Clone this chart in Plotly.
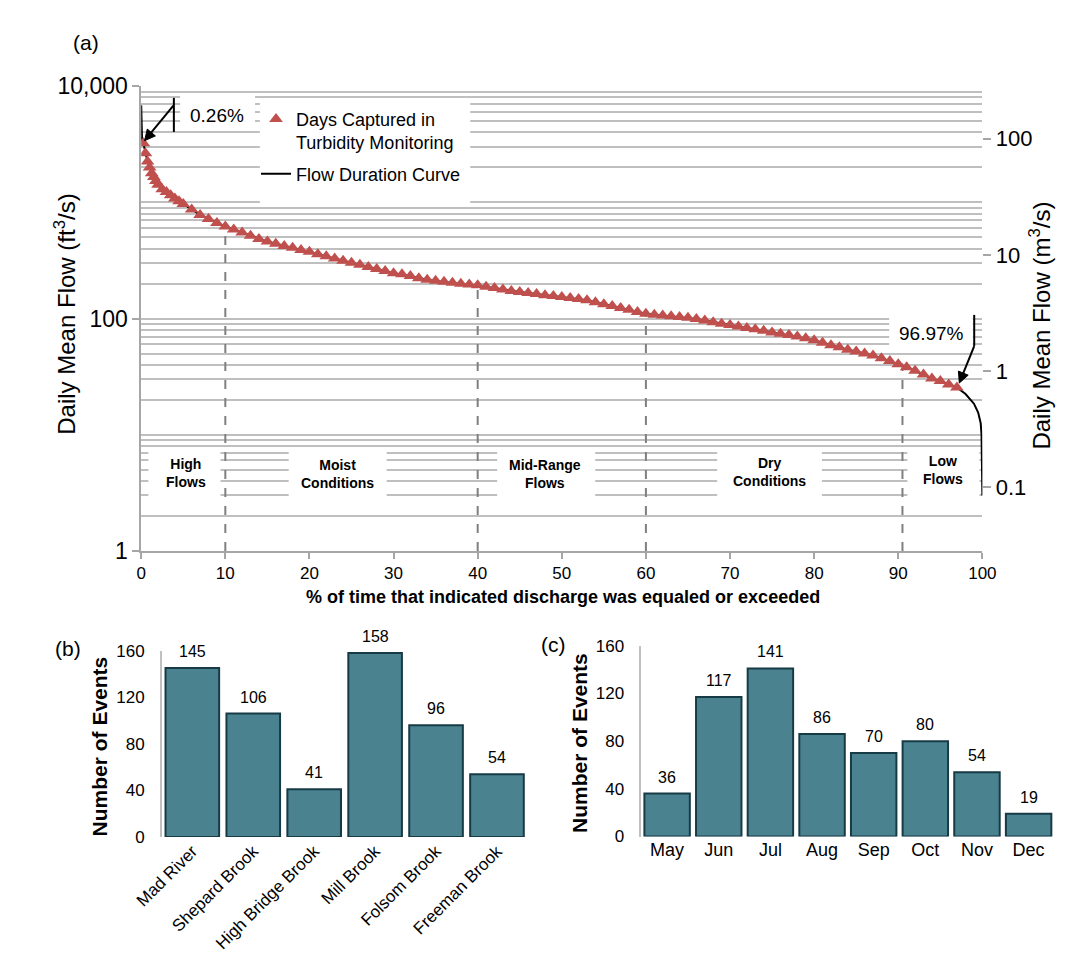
import plotly.graph_objects as go
import math

# ---------------- data ----------------
pct = [0, 0.1, 0.26, 0.5, 0.75, 1.0, 1.25, 1.5, 1.75, 2.0, 2.5, 3.0, 3.5, 4.0, 4.5, 5.0,
       6, 7, 8, 9, 10, 11, 12, 13, 14, 15, 16, 17, 18, 19, 20, 21, 22, 23, 24, 25,
       26, 27, 28, 29, 30, 31, 32, 33, 34, 35, 36, 37, 38, 39, 40, 41, 42, 43, 44, 45,
       46, 47, 48, 49, 50, 51, 52, 53, 54, 55, 56, 57, 58, 59, 60, 61, 62, 63, 64, 65,
       66, 67, 68, 69, 70, 71, 72, 73, 74, 75, 76, 77, 78, 79, 80, 81, 82, 83, 84, 85,
       86, 87, 88, 89, 90, 91, 92, 93, 94, 95, 96, 96.97, 98, 99, 99.5, 99.8, 99.9, 99.95, 100]
flow_cfs = [6840, 3500, 3220, 2650, 2250, 2000, 1780, 1650, 1530, 1420, 1300, 1230, 1150, 1080, 1020, 970,
            870, 780, 720, 665, 620, 585, 550, 515, 485, 460, 440, 422, 406, 390, 375, 358, 343, 328, 315, 302,
            290, 278, 267, 256, 246, 240, 232, 222, 216, 211, 207, 203, 199, 196, 193, 188, 183, 178, 173, 169,
            166, 163, 159, 156, 153, 150, 147, 144, 138, 133, 128, 123, 119, 114, 110, 108, 106, 104.5, 103, 101.5,
            99, 96, 93, 90, 88, 85.5, 83, 81, 78.5, 76, 74, 72, 70, 67.5, 65, 62, 59, 56.5, 54, 52,
            50, 48, 45.5, 43, 40.5, 38, 35.5, 33, 30.5, 29, 27, 25.5, 22.4, 18.5, 15.5, 12.6, 10, 7, 3]
captured_start_pct = 0.26
captured_end_pct = 96.97

regime_bounds = [10, 40, 60, 90.5]
regime_bound_flow = [620, 193, 110, 41]
regime_labels = ["High<br>Flows", "Moist<br>Conditions", "Mid-Range<br>Flows", "Dry<br>Conditions", "Low<br>Flows"]

sites = ["Mad River", "Shepard Brook", "High Bridge Brook", "Mill Brook", "Folsom Brook", "Freeman Brook"]
site_events = [145, 106, 41, 158, 96, 54]

months = ["May", "Jun", "Jul", "Aug", "Sep", "Oct", "Nov", "Dec"]
month_events = [36, 117, 141, 86, 70, 80, 54, 19]

CFS_TO_CMS = 0.0283168

# ---------------- helpers ----------------
W, H = 1071, 969
def px(x):
    return x / W
def py(y):
    return 1 - y / H

FONT = "Liberation Sans, Arial, sans-serif"
GRID = "#bfbfbf"
AXIS = "#a6a6a6"
RED = "#C0504D"
BAR = "#4A8290"
BAR_EDGE = "#173B45"

mk_x = [p for p in pct if captured_start_pct <= p <= captured_end_pct]
mk_y = [f for p, f in zip(pct, flow_cfs) if captured_start_pct <= p <= captured_end_pct]

fig = go.Figure()

fig.add_trace(go.Scatter(x=pct, y=flow_cfs, mode="lines", name="Flow Duration Curve",
                         line=dict(color="black", width=2), xaxis="x", yaxis="y",
                         legendrank=2, legendgroup="b"))
fig.add_trace(go.Scatter(x=mk_x, y=mk_y, mode="markers",
                         name="Days Captured in<br>Turbidity Monitoring",
                         marker=dict(symbol="triangle-up", size=12, color=RED, line=dict(width=0)),
                         xaxis="x", yaxis="y", legendrank=1, legendgroup="a"))
fig.add_trace(go.Scatter(x=[50], y=[1], mode="markers", marker=dict(opacity=0), xaxis="x", yaxis="y2",
                         showlegend=False, hoverinfo="skip"))

fig.add_trace(go.Bar(x=sites, y=site_events,
                     marker=dict(color=BAR, line=dict(color=BAR_EDGE, width=2)),
                     xaxis="x2", yaxis="y3", showlegend=False))
fig.add_trace(go.Bar(x=months, y=month_events,
                     marker=dict(color=BAR, line=dict(color=BAR_EDGE, width=2)),
                     xaxis="x3", yaxis="y4", showlegend=False))

minor_vals = []
for k in range(0, 4):
    for m in range(2, 10):
        minor_vals.append(m * 10 ** k)
minor_vals += [10, 1000]

lo = math.log10(CFS_TO_CMS)

fig.update_layout(
    width=W, height=H, margin=dict(l=0, r=0, t=0, b=0),
    paper_bgcolor="white", plot_bgcolor="white",
    font=dict(family=FONT, color="black"),
    bargap=0.12,
    xaxis=dict(domain=[px(109.5), px(985)], range=[0, 100], tickvals=list(range(0, 101, 10)),
               ticks="outside", ticklen=6, tickcolor=AXIS, tickwidth=1.5, showline=True, linecolor=AXIS,
               linewidth=1.5, showgrid=False, zeroline=False, tickfont=dict(size=17), anchor="y"),
    yaxis=dict(domain=[py(544.5), py(67)], type="log", range=[0, 4], tickvals=[1, 100, 10000],
               ticktext=["1", "100", "10,000"], ticks="outside", ticklen=7, tickcolor=AXIS, tickwidth=1.5,
               showline=True, linecolor=AXIS, linewidth=1.5, showgrid=True, gridcolor=GRID, gridwidth=1.5,
               zeroline=False, tickfont=dict(size=23), anchor="x",
               minor=dict(tickmode="array", tickvals=minor_vals, showgrid=True, gridcolor=GRID,
                          gridwidth=1.5, ticks="")),
    yaxis2=dict(overlaying="y", side="right", anchor="x", type="log", range=[lo, 4 + lo],
                tickvals=[0.1, 1, 10, 100], ticktext=["0.1", "1", "10", "100"], ticks="outside",
                ticklen=8, tickcolor=AXIS, tickwidth=1.5, showline=False, showgrid=False, zeroline=False,
                tickfont=dict(size=22)),
    xaxis2=dict(domain=[px(131), px(511.5)], anchor="y3", tickangle=-45, tickfont=dict(size=17),
                showline=False, ticks="", showgrid=False),
    yaxis3=dict(domain=[py(838.6), py(647)], anchor="x2", range=[0, 160], tickvals=[0, 40, 80, 120, 160],
                showline=True, linecolor="#c0c0c0", linewidth=1.5, showgrid=False, zeroline=False,
                ticks="", ticklabelstandoff=12, tickfont=dict(size=17)),
    xaxis3=dict(domain=[px(630), px(1060)], anchor="y4", tickfont=dict(size=18),
                showline=False, ticks="", showgrid=False),
    yaxis4=dict(domain=[py(838), py(642)], anchor="x3", range=[0, 160], tickvals=[0, 40, 80, 120, 160],
                showline=True, linecolor="#c0c0c0", linewidth=1.5, showgrid=False, zeroline=False,
                ticks="", ticklabelstandoff=12, tickfont=dict(size=17)),
    legend=dict(x=px(229), y=py(82), xanchor="left", yanchor="top", bgcolor="rgba(0,0,0,0)",
                font=dict(size=18), valign="top", itemwidth=30, tracegroupgap=5),
)

shapes = []
for xb, fb in zip(regime_bounds, regime_bound_flow):
    shapes.append(dict(type="line", xref="x", yref="y", x0=xb, x1=xb, y0=1, y1=fb,
                       line=dict(color="#7f7f7f", width=2, dash="dash"), layer="between"))
boxes = [(117, 192, 438, 495), (263, 365, 438, 495), (480, 582, 438, 495), (709, 818, 438, 495),
         (907, 982, 438, 495),
         (150, 228, 75, 110),
         (888, 975, 300, 338),
         (233, 452, 83, 190)]
for x0, x1, y0, y1 in boxes:
    shapes.append(dict(type="rect", xref="paper", yref="paper", x0=px(x0), x1=px(x1), y0=py(y1), y1=py(y0),
                       fillcolor="white", line=dict(width=0), layer="above"))
# callout brackets
shapes.append(dict(type="line", xref="paper", yref="paper", x0=px(143.5), x1=px(143.5), y0=py(114), y1=py(79),
                   line=dict(color="black", width=2), layer="above"))
shapes.append(dict(type="line", xref="paper", yref="paper", x0=px(976.5), x1=px(976.5), y0=py(334), y1=py(302),
                   line=dict(color="black", width=2), layer="above"))

def arrow(tail, tip, head_len=11, head_w=5.5):
    dx, dy = tip[0] - tail[0], tip[1] - tail[1]
    L = math.hypot(dx, dy)
    ux, uy = dx / L, dy / L
    bx, by = tip[0] - head_len * ux, tip[1] - head_len * uy
    nx, ny = -uy, ux
    shapes.append(dict(type="line", xref="paper", yref="paper", x0=px(tail[0]), y0=py(tail[1]),
                       x1=px(bx + 2 * ux), y1=py(by + 2 * uy), line=dict(color="black", width=2), layer="above"))
    p1 = (bx + head_w * nx, by + head_w * ny)
    p2 = (bx - head_w * nx, by - head_w * ny)
    path = (f"M {px(tip[0])},{py(tip[1])} L {px(p1[0])},{py(p1[1])} "
            f"L {px(p2[0])},{py(p2[1])} Z")
    shapes.append(dict(type="path", xref="paper", yref="paper", path=path, fillcolor="black",
                       line=dict(color="black", width=1), layer="above"))

arrow((143, 87), (113, 123))
arrow((976.5, 334), (961, 372))
fig.update_layout(shapes=shapes)

ann = []
def text(x, y, t, size, bold=False, angle=0, xanchor="center"):
    ann.append(dict(x=px(x), y=py(y), xref="paper", yref="paper", text=f"<b>{t}</b>" if bold else t,
                    showarrow=False, textangle=angle, xanchor=xanchor, yanchor="middle",
                    font=dict(size=size, color="black", family=FONT)))

text(52, 22, "(a)", 21)
text(33, 645, "(b)", 21)
text(539, 641, "(c)", 21)
text(30, 301, "Daily Mean Flow (ft<sup>3</sup>/s)", 24, angle=-90)
text(1045, 313, "Daily Mean Flow (m<sup>3</sup>/s)", 24, angle=-90)
text(548, 592, "% of time that indicated discharge was equaled or exceeded", 18, bold=True)
text(66, 745, "Number of Events", 21, bold=True, angle=-90)
text(565, 742, "Number of Events", 21, bold=True, angle=-90)

label_x = [156.5, 313.5, 530, 763.5, 944]
label_y = [464, 465, 465, 463, 461]
for lx, ly, lt in zip(label_x, label_y, regime_labels):
    text(lx, ly, lt, 14, bold=True)

text(188, 97, "0.26%", 19)
text(932, 321, "96.97%", 19)

# bar value labels (from the data)
for xs, ys, xa, ya in [(sites, site_events, "x2", "y3"), (months, month_events, "x3", "y4")]:
    for c, v in zip(xs, ys):
        ann.append(dict(x=c, y=v, xref=xa, yref=ya, text=str(v), showarrow=False, yanchor="bottom",
                        yshift=6, font=dict(size=16, color="black", family=FONT)))
fig.update_layout(annotations=ann)

fig.write_html("out.html")
